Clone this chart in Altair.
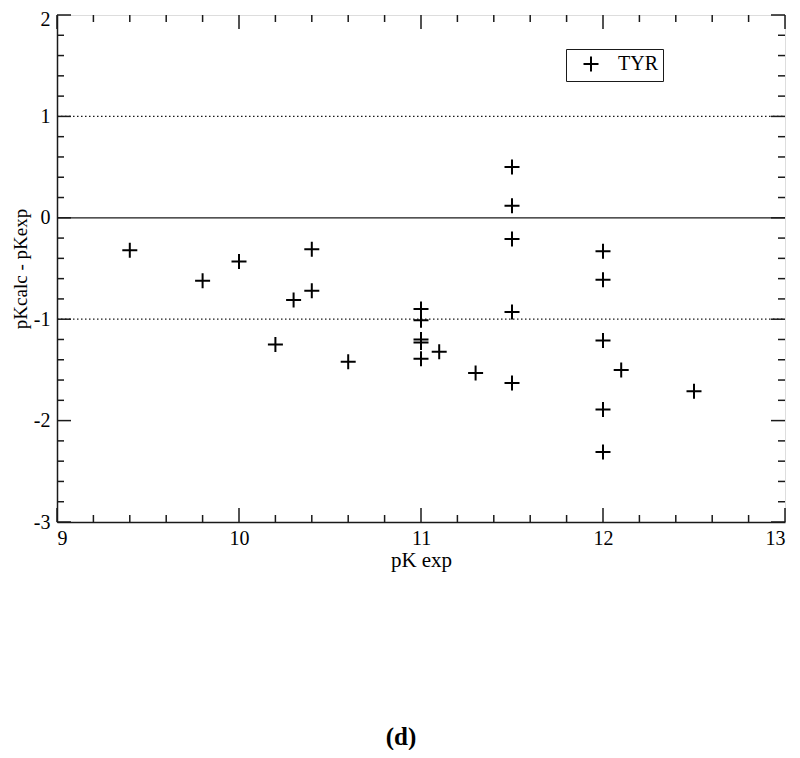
import altair as alt
import pandas as pd
import numpy as np

# ---- data ----
pk_exp = [9.4, 9.8, 10.0, 10.2, 10.3, 10.4, 10.4, 10.6,
          11.0, 11.0, 11.0, 11.0, 11.0, 11.1, 11.3,
          11.5, 11.5, 11.5, 11.5, 11.5,
          12.0, 12.0, 12.0, 12.0, 12.0, 12.1, 12.5]
pk_diff = [-0.32, -0.62, -0.43, -1.25, -0.81, -0.31, -0.72, -1.42,
           -0.90, -1.01, -1.20, -1.23, -1.39, -1.32, -1.53,
           0.50, 0.12, -0.21, -0.93, -1.63,
           -0.33, -0.61, -1.21, -1.89, -2.31, -1.50, -1.71]
series_name = "TYR"

x_major = [9, 10, 11, 12, 13]
y_major = [-3, -2, -1, 0, 1, 2]
x_minor = [round(v, 1) for v in np.arange(9.0, 13.01, 0.2) if abs(v - round(v)) > 1e-6]
y_minor = [round(v, 1) for v in np.arange(-3.0, 2.01, 0.2) if abs(v - round(v)) > 1e-6]
solid_lines = [0]
dotted_lines = [1, -1]

W, H = 728, 507
MAJ, MIN = 14, 7
FONT = "Liberation Serif"
INK = "#1a1a1a"
PLUS = "M-1,0L1,0M0,-1L0,1"

df = pd.DataFrame({"x": pk_exp, "y": pk_diff, "series": series_name})

xs = alt.Scale(domain=[9, 13], nice=False, zero=False)
ys = alt.Scale(domain=[-3, 2], nice=False, zero=False)

points = alt.Chart(df).mark_point(shape=PLUS, filled=False, size=225, strokeWidth=2, opacity=1).encode(
    x=alt.X("x:Q", scale=xs, title="pK exp",
            axis=alt.Axis(values=x_major, labelExpr="'' + datum.value", tickSize=0, grid=False,
                          labelFont=FONT, labelFontSize=20, labelColor="black", labelPadding=6,
                          titleFont=FONT, titleFontSize=21, titleFontWeight="normal",
                          titleColor="black", titlePadding=1,
                          domainColor=INK, domainWidth=1.5)),
    y=alt.Y("y:Q", scale=ys, title="pKcalc - pKexp",
            axis=alt.Axis(values=y_major, labelExpr="'' + datum.value", tickSize=0, grid=False,
                          labelFont=FONT, labelFontSize=20, labelColor="black", labelPadding=7,
                          labelOffset={"condition": {"test": "datum.value == 2", "value": 4}, "value": 0},
                          titleFont=FONT, titleFontSize=19, titleFontWeight="normal",
                          titleColor="black", titlePadding=3,
                          domainColor=INK, domainWidth=1.5)),
    stroke=alt.Stroke("series:N", scale=alt.Scale(range=["black"]),
                      legend=alt.Legend(orient="none", legendX=509, legendY=34, title=None,
                                        strokeColor=INK, fillColor="white", padding=5,
                                        symbolType=PLUS, symbolSize=225, symbolStrokeWidth=2,
                                        symbolStrokeColor="black", symbolOffset=10, labelOffset=17,
                                        labelFont=FONT, labelFontSize=20, labelColor="black")),
)

def hrules(vals, dash=None):
    d = pd.DataFrame({"y": vals})
    kw = {"color": INK, "strokeWidth": 1.3}
    if dash:
        kw["strokeDash"] = dash
    return alt.Chart(d).mark_rule(**kw).encode(
        y=alt.Y("y:Q", scale=ys), x=alt.value(0), x2=alt.value(W))

def xticks(vals, length):
    d = pd.DataFrame({"x": vals})
    bottom = alt.Chart(d).mark_rule(color=INK, strokeWidth=1.5).encode(
        x=alt.X("x:Q", scale=xs), y=alt.value(H), y2=alt.value(H - length))
    top = alt.Chart(d).mark_rule(color=INK, strokeWidth=1.5).encode(
        x=alt.X("x:Q", scale=xs), y=alt.value(0), y2=alt.value(length))
    return [bottom, top]

def yticks(vals, length):
    d = pd.DataFrame({"y": vals})
    left = alt.Chart(d).mark_rule(color=INK, strokeWidth=1.5).encode(
        y=alt.Y("y:Q", scale=ys), x=alt.value(0), x2=alt.value(length))
    right = alt.Chart(d).mark_rule(color=INK, strokeWidth=1.5).encode(
        y=alt.Y("y:Q", scale=ys), x=alt.value(W), x2=alt.value(W - length))
    return [left, right]

layers = [hrules(dotted_lines, [1.5, 2.5]), hrules(solid_lines)]
layers += xticks(x_major, MAJ) + xticks(x_minor, MIN)
layers += yticks(y_major, MAJ) + yticks(y_minor, MIN)
layers.append(points)

chart = alt.layer(*layers).properties(
    width=W, height=H,
    padding={"left": 49, "top": 7, "right": 7, "bottom": 228},
    autosize=alt.AutoSizeParams(type="none"),
    title=alt.TitleParams(text="(d)", orient="bottom", font=FONT, fontSize=25,
                          fontWeight="bold", color="black", offset=155, dx=-20),
).configure_view(stroke=INK, strokeWidth=1.5).configure(background="white")

chart.save("out.html", embed_options={"renderer": "svg", "actions": False})
